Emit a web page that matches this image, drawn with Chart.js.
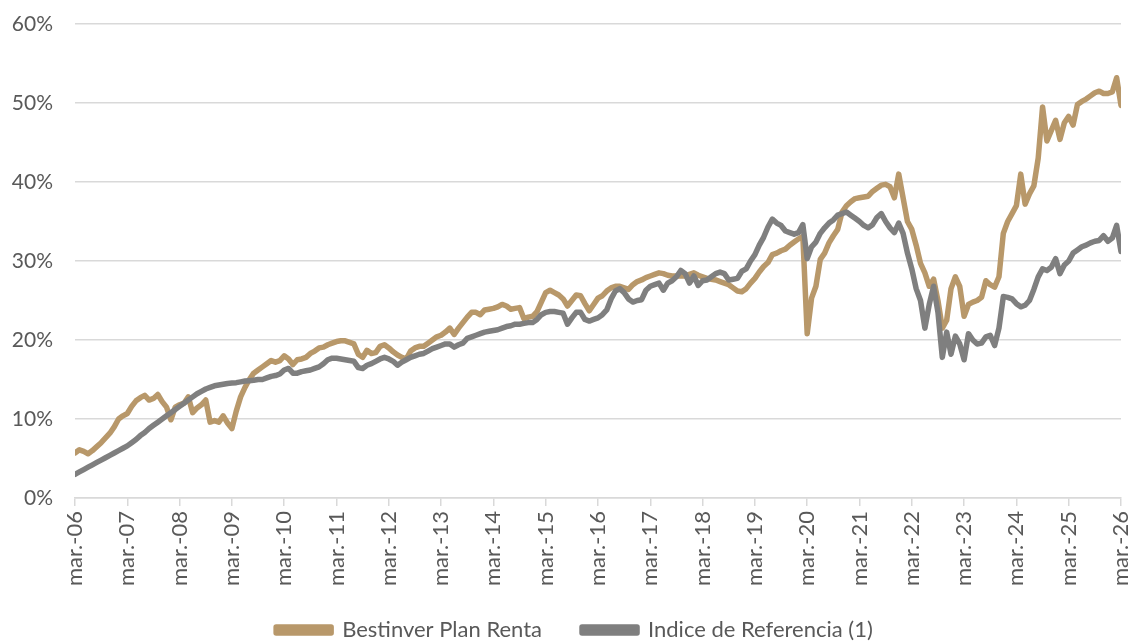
<!DOCTYPE html>
<html>
<head>
<meta charset="utf-8">
<script src="https://cdn.jsdelivr.net/npm/chart.js@4/dist/chart.umd.min.js"></script>
<style>
  html, body { margin: 0; padding: 0; background: #ffffff; }
  #wrap { width: 1132px; height: 643px; position: relative; }
</style>
</head>
<body>
<div id="wrap"><canvas id="c" width="1132" height="643"></canvas></div>
<script>
// Tick labels (one per year, every 12 months)
const tickLabels = ['mar.-06','mar.-07','mar.-08','mar.-09','mar.-10','mar.-11','mar.-12','mar.-13','mar.-14','mar.-15',
  'mar.-16','mar.-17','mar.-18','mar.-19','mar.-20','mar.-21','mar.-22','mar.-23','mar.-24','mar.-25','mar.-26'];

const seriesNames = ['Bestinver Plan Renta', 'Indice de Referencia (1)'];

// Monthly values (%) from mar-06 to mar-26
const planRenta = [
  5.7, 6.1, 5.9, 5.6, 6.0, 6.5, 7.0, 7.6, 8.2, 9.0, 10.0, 10.4,
  10.7, 11.6, 12.3, 12.7, 13.0, 12.4, 12.6, 13.1, 12.2, 11.5, 9.9, 11.5,
  11.8, 12.0, 12.8, 10.8, 11.4, 11.8, 12.4, 9.6, 9.8, 9.6, 10.4, 9.5,
  8.8, 11.0, 12.8, 14.0, 15.0, 15.8, 16.2, 16.6, 17.0, 17.4, 17.2, 17.4,
  18.0, 17.6, 16.9, 17.5, 17.6, 17.8, 18.3, 18.6, 19.0, 19.1, 19.4, 19.6,
  19.8, 19.9, 19.9, 19.7, 19.5, 18.2, 17.8, 18.7, 18.3, 18.4, 19.2, 19.4,
  19.0, 18.5, 18.1, 17.8, 17.6, 18.6, 19.0, 19.2, 19.2, 19.6, 20.0, 20.4,
  20.6, 21.0, 21.5, 20.7, 21.5, 22.2, 22.9, 23.5, 23.5, 23.2, 23.8, 23.9,
  24.0, 24.2, 24.5, 24.3, 23.9, 24.0, 24.1, 22.7, 22.9, 23.0, 23.6, 24.8,
  26.0, 26.3, 26.0, 25.7, 25.2, 24.3, 25.0, 25.7, 25.6, 24.6, 23.7, 24.5,
  25.3, 25.6, 26.2, 26.6, 26.8, 26.8, 26.6, 26.4, 27.0, 27.4, 27.6, 27.9,
  28.1, 28.3, 28.5, 28.4, 28.2, 28.1, 28.1, 28.1, 28.1, 28.3, 28.5, 28.2,
  28.0, 27.8, 27.7, 27.6, 27.4, 27.2, 27.0, 26.6, 26.2, 26.1, 26.5, 27.2,
  27.8, 28.6, 29.3, 29.8, 30.8, 31.0, 31.3, 31.5, 32.0, 32.4, 32.8, 33.1,
  20.8, 25.3, 26.8, 30.2, 31.0, 32.3, 33.2, 34.0, 36.2, 37.0, 37.5, 37.9,
  38.0, 38.1, 38.2, 38.8, 39.2, 39.6, 39.7, 39.4, 38.0, 41.0, 38.0, 35.0,
  34.0, 32.0, 29.7, 28.5, 26.8, 27.7, 25.0, 21.5, 22.5, 26.5, 28.0, 26.8,
  23.0, 24.5, 24.8, 25.0, 25.4, 27.5, 27.0, 26.7, 28.0, 33.5, 35.0, 36.0,
  37.0, 41.0, 37.2, 38.5, 39.5, 43.0, 49.5, 45.2, 46.5, 47.8, 45.4, 47.5,
  48.3, 47.2, 49.8, 50.2, 50.5, 50.9, 51.3, 51.5, 51.2, 51.2, 51.4, 53.2,
  49.7
];

const indiceReferencia = [
  3.0, 3.3, 3.6, 3.9, 4.2, 4.5, 4.8, 5.1, 5.4, 5.7, 6.0, 6.3,
  6.6, 7.0, 7.4, 7.9, 8.3, 8.8, 9.2, 9.6, 10.0, 10.4, 10.8, 11.2,
  11.6, 12.0, 12.4, 12.8, 13.2, 13.5, 13.8, 14.0, 14.2, 14.3, 14.4, 14.5,
  14.55, 14.6, 14.7, 14.8, 14.85, 14.9, 15.0, 15.0, 15.2, 15.4, 15.5, 15.7,
  16.2, 16.4, 15.8, 15.8, 16.0, 16.1, 16.2, 16.4, 16.6, 17.0, 17.5, 17.7,
  17.7, 17.6, 17.5, 17.4, 17.3, 16.5, 16.4, 16.8, 17.0, 17.3, 17.6, 17.8,
  17.6, 17.3, 16.8, 17.2, 17.5, 17.8, 18.0, 18.2, 18.3, 18.6, 18.9, 19.1,
  19.3, 19.5, 19.5, 19.1, 19.4, 19.6, 20.2, 20.4, 20.6, 20.8, 21.0, 21.1,
  21.2, 21.3, 21.5, 21.7, 21.8, 22.0, 22.0, 22.1, 22.2, 22.2, 22.6, 23.2,
  23.5, 23.6, 23.6, 23.5, 23.4, 22.0, 22.8, 23.5, 23.5, 22.6, 22.4, 22.6,
  22.8, 23.2, 23.8, 25.2, 26.2, 26.5, 26.0, 25.2, 24.8, 25.0, 25.1, 26.3,
  26.8, 27.0, 27.2, 26.3, 27.2, 27.5, 28.0, 28.8, 28.4, 27.2, 28.1, 26.9,
  27.5, 27.6, 28.0, 28.4, 28.6, 28.4, 27.6, 27.7, 27.8, 28.7, 29.0, 30.0,
  30.8, 32.0, 33.0, 34.3, 35.3, 34.8, 34.5, 33.8, 33.6, 33.4, 33.6, 34.6,
  30.3, 31.8, 32.4, 33.5, 34.2, 34.8, 35.2, 35.8, 36.0, 36.2, 35.8, 35.4,
  35.0, 34.5, 34.2, 34.6, 35.5, 36.0, 35.0, 34.2, 33.6, 34.8, 33.5, 31.0,
  29.0, 26.5, 25.0, 21.5, 24.5, 26.8, 23.5, 17.8, 21.0, 18.2, 20.5, 19.5,
  17.5, 20.8, 20.0, 19.5, 19.6, 20.4, 20.6, 19.3, 21.5, 25.5, 25.4, 25.2,
  24.6, 24.2, 24.4, 25.0, 26.4, 28.0, 29.0, 28.8, 29.2, 30.3, 28.4, 29.5,
  30.0, 31.0, 31.4, 31.8, 32.0, 32.3, 32.5, 32.6, 33.2, 32.5, 32.9, 34.5,
  31.2
];

const goldColor = '#B8986A';
const grayColor = '#7F7F7F';
const textColor = '#595959';
const gridColor = '#D9D9D9';
const FONT = 'Lato, "Liberation Sans", sans-serif';

const toPoints = arr => arr.map((v, i) => ({ x: i, y: v }));

// Lift the legend row a little (keeping its bottom edge) and nudge it right,
// so it sits where the reference has it
const legendShift = {
  id: 'legendShift',
  afterLayout(chart) {
    const lg = chart.legend;
    if (lg) { lg.top -= 14; lg.height += 14; lg.left += 14; lg.right += 14; }
  }
};

new Chart(document.getElementById('c'), {
  type: 'line',
  plugins: [legendShift],
  data: {
    datasets: [
      {
        label: seriesNames[0],
        data: toPoints(planRenta),
        borderColor: goldColor,
        backgroundColor: goldColor,
        borderWidth: 5.5,
        pointRadius: 0,
        tension: 0,
        borderJoinStyle: 'round',
        borderCapStyle: 'round',
        order: 1
      },
      {
        label: seriesNames[1],
        data: toPoints(indiceReferencia),
        borderColor: grayColor,
        backgroundColor: grayColor,
        borderWidth: 5.5,
        pointRadius: 0,
        tension: 0,
        borderJoinStyle: 'round',
        borderCapStyle: 'round',
        order: 0
      }
    ]
  },
  options: {
    responsive: false,
    animation: false,
    devicePixelRatio: 1,
    layout: { padding: { left: 0, right: 11, top: 24, bottom: 0 } },
    plugins: {
      tooltip: { enabled: false },
      legend: {
        position: 'bottom',
        maxHeight: 50,
        labels: {
          color: textColor,
          font: { family: FONT, size: 22 },
          boxWidth: 55,
          boxHeight: 6,
          padding: 40,
          sort: (a, b) => a.datasetIndex - b.datasetIndex
        }
      }
    },
    scales: {
      x: {
        type: 'linear',
        min: 0,
        max: (tickLabels.length - 1) * 12,
        afterBuildTicks: s => { s.ticks = tickLabels.map((_, k) => ({ value: k * 12 })); },
        afterFit: s => { s.height = 95; s.paddingLeft = 0; s.paddingRight = 0; },
        grid: { drawOnChartArea: false, drawTicks: true, tickLength: 8, color: gridColor, lineWidth: 1.5 },
        border: { display: true, color: gridColor, width: 1.5 },
        ticks: {
          autoSkip: false,
          maxRotation: 90,
          minRotation: 90,
          padding: 5,
          color: textColor,
          font: { family: FONT, size: 22 },
          callback: v => tickLabels[Math.round(v / 12)]
        }
      },
      y: {
        min: 0,
        max: 60,
        afterFit: s => { s.width = 75; s.paddingTop = 0; s.paddingBottom = 0; },
        ticks: {
          stepSize: 10,
          padding: 22,
          color: textColor,
          font: { family: FONT, size: 21 },
          callback: v => v + '%'
        },
        grid: { color: gridColor, lineWidth: 1.5, drawTicks: false },
        border: { display: false }
      }
    }
  }
});
</script>
</body>
</html>
